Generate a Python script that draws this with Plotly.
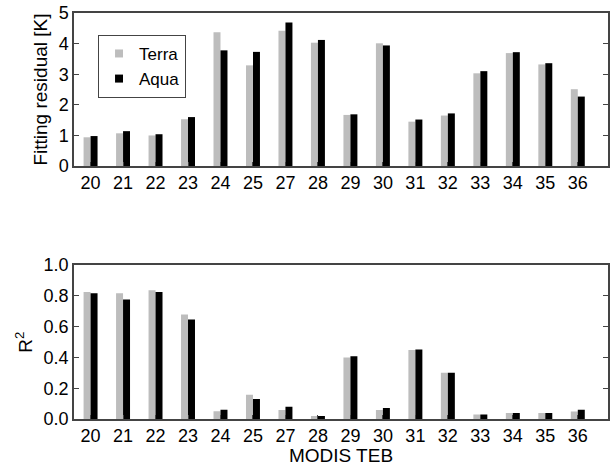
import plotly.graph_objects as go

categories = ['20', '21', '22', '23', '24', '25', '27', '28', '29', '30', '31', '32', '33', '34', '35', '36']
terra_resid = [0.94, 1.07, 1.00, 1.53, 4.37, 3.29, 4.42, 4.03, 1.67, 4.01, 1.45, 1.65, 3.03, 3.69, 3.32, 2.51]
aqua_resid = [0.98, 1.14, 1.04, 1.60, 3.78, 3.73, 4.69, 4.12, 1.69, 3.94, 1.52, 1.72, 3.10, 3.72, 3.36, 2.27]
terra_r2 = [0.826, 0.818, 0.837, 0.679, 0.050, 0.158, 0.059, 0.020, 0.400, 0.059, 0.449, 0.300, 0.030, 0.039, 0.039, 0.048]
aqua_r2 = [0.818, 0.777, 0.826, 0.646, 0.060, 0.130, 0.080, 0.020, 0.408, 0.072, 0.451, 0.300, 0.030, 0.039, 0.039, 0.060]
resid_ticks = [0, 1, 2, 3, 4, 5]
r2_ticks = [0.0, 0.2, 0.4, 0.6, 0.8, 1.0]

TERRA = '#bdbdbd'
AQUA = '#000000'
AX = '#444444'
FONT = 'Arial, Liberation Sans, sans-serif'

pos = list(range(len(categories)))

fig = go.Figure()
fig.add_trace(go.Bar(x=pos, y=terra_resid, name='Terra', marker=dict(color=TERRA, line=dict(width=0)),
                     offsetgroup='t', showlegend=False, xaxis='x', yaxis='y'))
fig.add_trace(go.Bar(x=pos, y=aqua_resid, name='Aqua', marker=dict(color=AQUA, line=dict(width=0)),
                     offsetgroup='a', showlegend=False, xaxis='x', yaxis='y'))
fig.add_trace(go.Bar(x=pos, y=terra_r2, name='Terra', marker=dict(color=TERRA, line=dict(width=0)),
                     offsetgroup='t', showlegend=False, xaxis='x2', yaxis='y2'))
fig.add_trace(go.Bar(x=pos, y=aqua_r2, name='Aqua', marker=dict(color=AQUA, line=dict(width=0)),
                     offsetgroup='a', showlegend=False, xaxis='x2', yaxis='y2'))
# legend entries
fig.add_trace(go.Scatter(x=[None], y=[None], mode='markers', name='Terra',
                         marker=dict(symbol='square', size=8, color=TERRA), xaxis='x', yaxis='y'))
fig.add_trace(go.Scatter(x=[None], y=[None], mode='markers', name='Aqua',
                         marker=dict(symbol='square', size=8, color=AQUA), xaxis='x', yaxis='y'))

xcommon = dict(tickmode='array', tickvals=pos, ticktext=categories, range=[-0.51, 15.93],
               showline=True, linecolor=AX, linewidth=1.5, mirror=True,
               ticks='inside', ticklen=4, tickcolor=AX, tickwidth=1,
               showgrid=False, zeroline=False, tickfont=dict(size=18, color='#000', family=FONT),
               ticklabelstandoff=0)
ycommon = dict(showline=True, linecolor=AX, linewidth=1.5, mirror='ticks',
               ticks='inside', ticklen=5, tickcolor=AX, tickwidth=1,
               showgrid=False, zeroline=False, tickfont=dict(size=18, color='#000', family=FONT),
               ticklabelstandoff=0)

fig.update_layout(
    width=610, height=466,
    margin=dict(l=74, r=0, t=13, b=47),
    paper_bgcolor='white', plot_bgcolor='white',
    font=dict(family=FONT, size=18, color='#000'),
    barmode='group', bargap=0.57, bargroupgap=0,
    xaxis=dict(domain=[0, 1], anchor='y', **xcommon),
    xaxis2=dict(domain=[0, 1], anchor='y2', title=dict(text='MODIS TEB', standoff=0, font=dict(size=19)), **xcommon),
    yaxis=dict(domain=[0.623, 1], anchor='x', range=[0, 5], tickvals=resid_ticks,
               title=dict(text='Fitting residual [K]', standoff=6, font=dict(size=19)), **ycommon),
    yaxis2=dict(domain=[0, 0.379], anchor='x2', range=[0, 1.0], tickvals=r2_ticks, tickformat='.1f',
                title=dict(text='R<sup>2</sup>', standoff=6, font=dict(size=19)), **ycommon),
    legend=dict(x=0.045, y=0.946, xanchor='left', yanchor='top', bordercolor=AX, borderwidth=1,
                bgcolor='white', font=dict(size=17, family=FONT), tracegroupgap=0, itemwidth=30),
)

fig.write_html('out.html')
